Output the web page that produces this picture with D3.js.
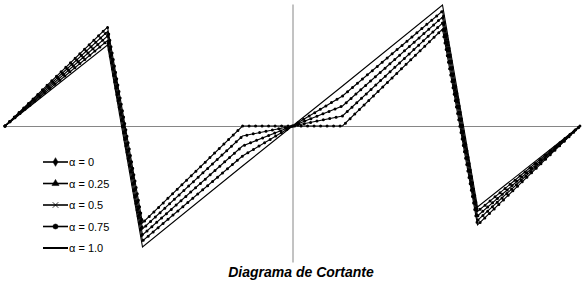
<!DOCTYPE html>
<html><head><meta charset="utf-8">
<script src="https://cdn.jsdelivr.net/npm/d3@7"></script>
<style>body{margin:0;background:#fff}svg{display:block}</style>
</head><body>
<script>
// Stations (m) where the shear diagram changes slope
const stations = [-5.75, -3.7, -3.0, -1.0, 0, 1.0, 3.0, 3.7, 5.75];
// Shear values per alpha
const alpha0   = [0, 99,   -97,  0,   0, 0,   97,  -99,   0];
const alpha025 = [0, 94.5, -103, -10, 0, 10,  103, -94.5, 0];
const alpha05  = [0, 90,   -109, -20, 0, 20,  109, -90,   0];
const alpha075 = [0, 85.5, -115, -30, 0, 30,  115, -85.5, 0];
const alpha1   = [0, 81,   -121, -40, 0, 40,  121, -81,   0];
const seriesNames = ["α = 0", "α = 0.25", "α = 0.5", "α = 0.75", "α = 1.0"];
const seriesValues = [alpha0, alpha025, alpha05, alpha075, alpha1];
const markerTypes = ["diamond", "triangle", "cross", "circle", "none"];
const title = "Diagrama de Cortante";

const W = 588, H = 291;
const svg = d3.select("body").append("svg").attr("width", W).attr("height", H);

const x = d3.scaleLinear().domain([-5.75, 5.75]).range([5, 580]);
const y = d3.scaleLinear().domain([-136, 122]).range([262, 4]);

// axes
svg.append("g").attr("transform", `translate(0,${y(0)})`)
  .call(d3.axisBottom(x).tickValues([]).tickSizeOuter(0))
  .call(g => g.select(".domain").attr("stroke", "#868686"));
svg.append("g").attr("transform", `translate(${x(0)},0)`)
  .call(d3.axisLeft(y).tickValues([]).tickSizeOuter(0))
  .call(g => g.select(".domain").attr("stroke", "#868686"));

const line = d3.line().x(d => x(d[0])).y(d => y(d[1]));

seriesValues.forEach((vals, i) => {
  const pts = stations.map((s, k) => [s, vals[k]]);
  svg.append("path").attr("d", line(pts)).attr("fill", "none")
    .attr("stroke", "#000").attr("stroke-width", 1.1);
  if (markerTypes[i] !== "none") {
    // marker dots along the series line
    svg.append("path").attr("d", line(pts)).attr("fill", "none")
      .attr("stroke", "#000").attr("stroke-width", 3)
      .attr("stroke-linecap", "round")
      .attr("stroke-dasharray", "0 6.5");
  }
});

// legend
const sym = {
  diamond: d3.symbol().type(d3.symbolDiamond).size(22),
  triangle: d3.symbol().type(d3.symbolTriangle).size(22),
  cross: d3.symbol().type(d3.symbolTimes).size(22),
  circle: d3.symbol().type(d3.symbolCircle).size(20)
};
const lg = svg.append("g");
seriesNames.forEach((name, i) => {
  const cy = 162 + i * 21.5;
  lg.append("line").attr("x1", 43).attr("x2", 68).attr("y1", cy).attr("y2", cy)
    .attr("stroke", "#000").attr("stroke-width", i === 4 ? 2 : 1.6);
  if (markerTypes[i] !== "none") {
    lg.append("path").attr("d", sym[markerTypes[i]]())
      .attr("transform", `translate(55.5,${cy})`)
      .attr("fill", markerTypes[i] === "cross" ? "none" : "#000")
      .attr("stroke", "#000").attr("stroke-width", markerTypes[i] === "cross" ? 0.8 : 0.5);
  }
  lg.append("text").attr("x", 69).attr("y", cy + 4)
    .attr("font-family", "Liberation Sans, Arial, sans-serif").attr("font-size", 11)
    .attr("fill", "#000").text(name);
});

svg.append("text").attr("x", 301).attr("y", 277).attr("text-anchor", "middle")
  .attr("font-family", "Liberation Sans, Arial, sans-serif").attr("font-size", 14)
  .attr("font-weight", "bold").attr("font-style", "italic").attr("fill", "#000")
  .text(title);
</script>
</body></html>
